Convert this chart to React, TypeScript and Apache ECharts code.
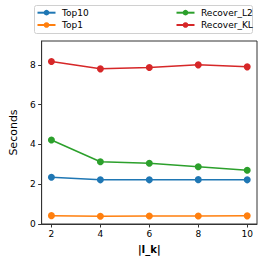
import React, { useEffect, useRef } from "react";
import * as echarts from "echarts";

const xValues = [2, 4, 6, 8, 10];
const top10 = [2.35, 2.22, 2.22, 2.23, 2.22];
const top1 = [0.42, 0.39, 0.4, 0.4, 0.41];
const recoverL2 = [4.22, 3.13, 3.05, 2.88, 2.7];
const recoverKL = [8.17, 7.8, 7.87, 8.0, 7.9];
const yTicks = [0, 2, 4, 6, 8];

const seriesNames = ["Top10", "Top1", "Recover_L2", "Recover_KL"];
const seriesData = [top10, top1, recoverL2, recoverKL];
const colors = ["#1f77b4", "#ff7f0e", "#2ca02c", "#d62728"];

export default function App() {
  const ref = useRef<HTMLDivElement>(null);
  useEffect(() => {
    if (!ref.current) return;
    const chart = echarts.init(ref.current, null, { renderer: "svg" });
    const font = "DejaVu Sans";
    const legendText = {
      fontSize: 9,
      lineHeight: 12,
      color: "#000",
      fontFamily: font,
      padding: [0, 0, 0, 1.5],
    };
    chart.setOption({
      animation: false,
      textStyle: { fontFamily: font },
      grid: {
        left: 31,
        right: 9,
        top: 41,
        bottom: 34,
        show: true,
        borderColor: "#333",
        borderWidth: 1,
        backgroundColor: "transparent",
      },
      graphic: [
        {
          type: "rect",
          shape: { x: 34.5, y: 5.5, width: 218, height: 28, r: 2 },
          style: { fill: "rgba(255,255,255,0.8)", stroke: "#d0d0d0", lineWidth: 1 },
          z: 0,
        },
      ],
      legend: [
        {
          data: seriesNames.slice(0, 2),
          orient: "vertical",
          left: 36.5,
          top: 6.7,
          padding: 0,
          itemWidth: 18,
          itemHeight: 7,
          itemGap: 0.3,
          textStyle: legendText,
          z: 10,
        },
        {
          data: seriesNames.slice(2, 4),
          orient: "vertical",
          left: 175.5,
          top: 6.7,
          padding: 0,
          itemWidth: 18,
          itemHeight: 7,
          itemGap: 0.3,
          textStyle: legendText,
          z: 10,
        },
      ],
      xAxis: {
        type: "value",
        min: 1.6,
        max: 10.4,
        name: "|I_k|",
        nameLocation: "middle",
        nameGap: 20,
        nameTextStyle: { fontSize: 10, fontWeight: "bold", color: "#000", fontFamily: font },
        axisLine: { show: true, lineStyle: { color: "#333" } },
        axisTick: { show: true, length: 3.5, lineStyle: { color: "#333" }, customValues: xValues },
        axisLabel: { fontSize: 9, color: "#000", margin: 5, customValues: xValues, fontFamily: font },
        splitLine: { show: false },
      },
      yAxis: {
        type: "value",
        min: 0,
        max: 9.2,
        name: "Seconds",
        nameLocation: "middle",
        nameGap: 20,
        nameTextStyle: { fontSize: 11, color: "#000", fontFamily: font },
        axisLine: { show: true, lineStyle: { color: "#333" } },
        axisTick: { show: true, length: 3.5, lineStyle: { color: "#333" }, customValues: yTicks },
        axisLabel: { fontSize: 9, color: "#000", margin: 6, customValues: yTicks, fontFamily: font },
        splitLine: { show: false },
      },
      series: seriesNames.map((name, i) => ({
        name,
        type: "line",
        data: xValues.map((x, j) => [x, seriesData[i][j]]),
        symbol: "circle",
        symbolSize: 7,
        lineStyle: { width: 1.5, color: colors[i] },
        itemStyle: { color: colors[i] },
        color: colors[i],
      })),
    });
    return () => chart.dispose();
  }, []);
  return <div ref={ref} style={{ width: 266, height: 259, position: "absolute", left: 0, top: 0 }} />;
}
